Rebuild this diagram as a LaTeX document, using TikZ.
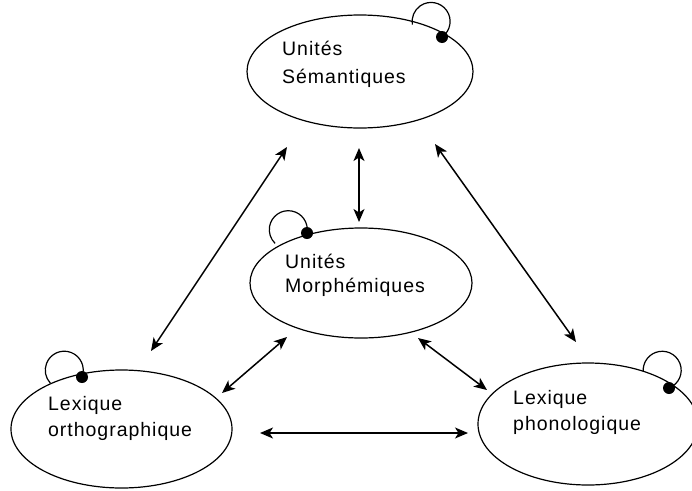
\documentclass[tikz,border=0pt]{standalone}
\usepackage{fontspec}
\newfontfamily\lblfont{Liberation Sans}[LetterSpace=5]
\usetikzlibrary{shapes.geometric,arrows.meta,calc}

\begin{document}
\begin{tikzpicture}[x=1pt,y=-1pt,
  blob/.style={draw,ellipse,line width=1.2pt,inner sep=0pt},
  lbl/.style={anchor=base west,inner sep=0pt,font=\lblfont\fontsize{19.5}{23}\selectfont},
  tip/.tip={Stealth[length=13pt,width=11pt,inset=3.5pt]},
  biarrow/.style={line width=1.5pt,tip-tip},
  selfloop/.style={line width=1.2pt},
  knob/.style={fill,circle,inner sep=0pt,minimum size=12pt}]

\clip (0,0) rectangle (692,490);

% the four modules
\node[blob,minimum width=226pt,minimum height=113pt] (sem) at (360,71.5) {};
\node[blob,minimum width=222pt,minimum height=110pt] (mor) at (361,283) {};
\node[blob,minimum width=221pt,minimum height=118pt] (lo)  at (121.5,429) {};
\node[blob,minimum width=220pt,minimum height=122pt] (lp)  at (588,424) {};

% labels
\node[lbl] (semA) at (282,55)  {Unités};
\node[lbl] (semB) at (282,83)  {Sémantiques};
\node[lbl] (morA) at (285,268) {Unités};
\node[lbl] (morB) at (285,292) {Morphémiques};
\node[lbl] (loA)  at (48,410)  {Lexique};
\node[lbl] (loB)  at (48,436)  {orthographique};
\node[lbl] (lpA)  at (513,404) {Lexique};
\node[lbl] (lpB)  at (513,430) {phonologique};

% self-connections: a loop ending in a dot on each module
\coordinate (semdot) at ($(sem.center)+(82,-34.5)$);
\coordinate (mordot) at ($(mor.center)+(-54,-50)$);
\coordinate (lodot)  at ($(lo.center)+(-39.5,-52)$);
\coordinate (lpdot)  at ($(lp.center)+(81,-36)$);
\draw[selfloop] (semdot) arc[start angle=55,end angle=-190,radius=19];
\draw[selfloop] (mordot) arc[start angle=10,end angle=-226,radius=19];
\draw[selfloop] (lodot)  arc[start angle=21,end angle=-223,radius=19];
\draw[selfloop] (lpdot)  arc[start angle=69,end angle=-183,radius=19];
\node[knob] (semk) at (semdot) {};
\node[knob] (mork) at (mordot) {};
\node[knob] (lok)  at (lodot)  {};
\node[knob] (lpk)  at (lpdot)  {};

% bidirectional links
\draw[biarrow] ($(sem.center)+(-1,76.5)$)  -- ($(mor.center)+(-2,-61)$);
\draw[biarrow] ($(sem.center)+(-73,75.5)$) -- ($(lo.center)+(29.5,-78)$);
\draw[biarrow] ($(sem.center)+(75,72.5)$)  -- ($(lp.center)+(-12,-82)$);
\draw[biarrow] ($(mor.center)+(-74,54)$)   -- ($(lo.center)+(100.5,-36)$);
\draw[biarrow] ($(mor.center)+(57,55)$)    -- ($(lp.center)+(-101,-34)$);
\draw[biarrow] ($(lo.center)+(138.5,4)$)   -- ($(lp.center)+(-120,9)$);
\end{tikzpicture}
\end{document}
